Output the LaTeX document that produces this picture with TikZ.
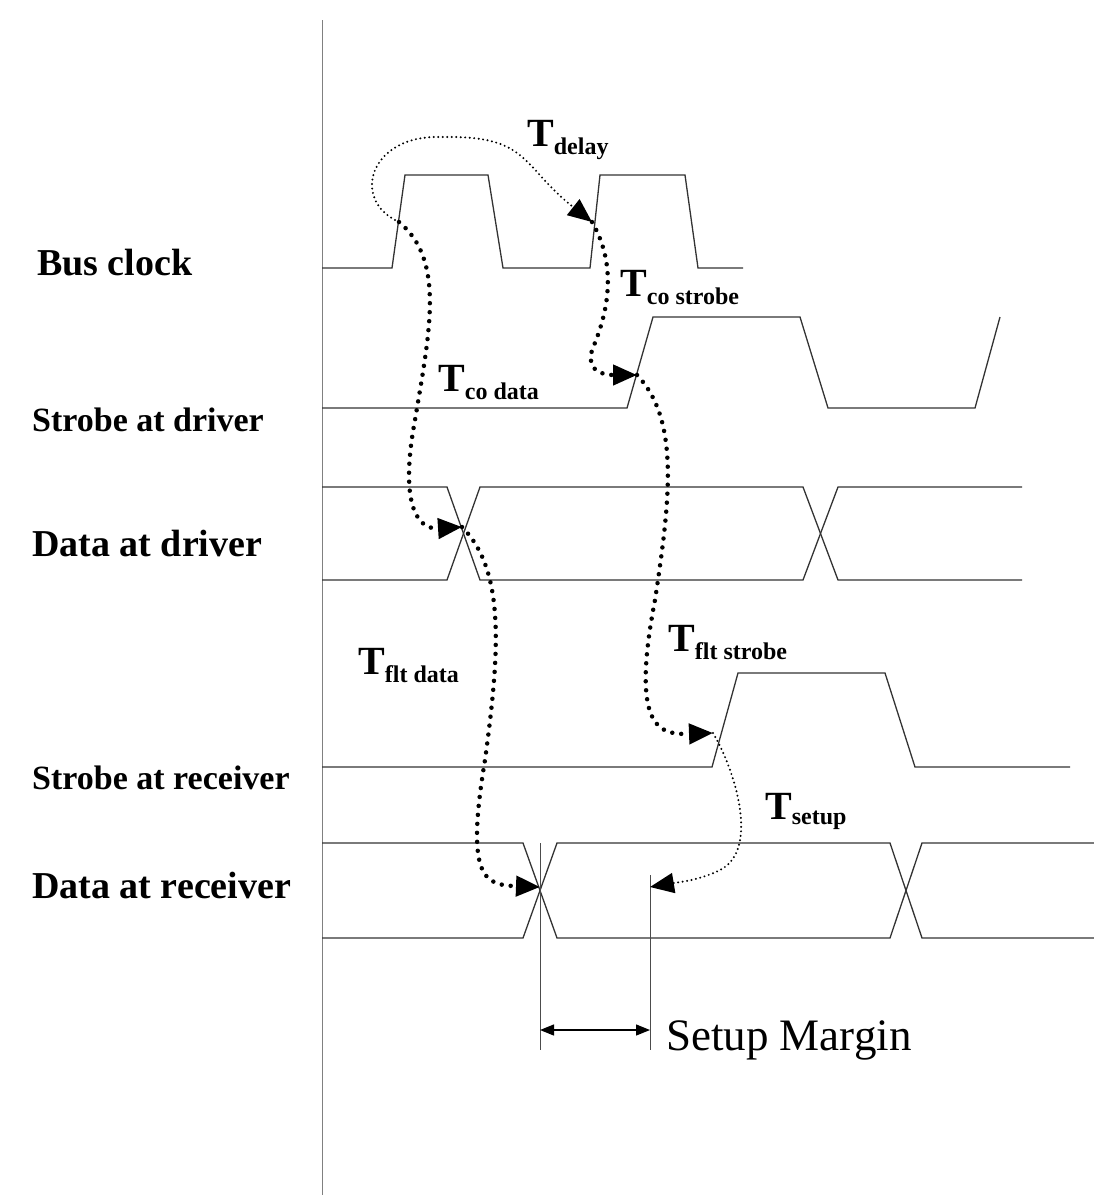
\documentclass[tikz,border=0pt]{standalone}
\usepackage{fontspec}
\setmainfont{Liberation Serif}
\usetikzlibrary{arrows.meta,positioning}
\tikzset{%
  wave/.style = { line width=1.3pt, black!80 },
  sig/.style = { anchor=west, font=\bfseries\fontsize{34}{36}\selectfont, inner sep=0pt },
  bigsig/.style = { sig, font=\bfseries\fontsize{38}{40}\selectfont },
  tlab/.style = { font=\bfseries\fontsize{40}{42}\selectfont, inner sep=0pt },
  path/.style = { line width=4.5pt, line cap=round, dash pattern=on 0pt off 9pt, -{Triangle[length=24pt,width=20pt]} },
  thinpath/.style = { line width=2.2pt, line cap=round, dash pattern=on 0pt off 4.5pt, -{Triangle[length=24pt,width=20pt]} }
}
\newcommand{\tsub}[1]{T\textsubscript{\fontsize{24}{26}\selectfont #1}}
\begin{document}
\begin{tikzpicture}[x=1pt,y=-1pt]
  \useasboundingbox (0,0) rectangle (1094,1202);

  % time axis
  \draw[line width=1pt,black!50] (322,20) -- (322,1195);

  % Signal names
  \node[bigsig] (nclk) at (37,263) {Bus clock};
  \node[sig] (nsd) at (32,420) {Strobe at driver};
  \node[bigsig] (ndd) at (32,543) {Data at driver};
  \node[sig] (nsr) at (32,778) {Strobe at receiver};
  \node[bigsig] (ndr) at (32,885) {Data at receiver};

  % Waveforms
  \draw[wave] (322,268) -- (392,268) -- (405,175) -- (488,175) -- (503,268) -- (590,268) -- (600,175) -- (685,175) -- (698,268) -- (743,268);
  \draw[wave] (322,408) -- (627,408) -- (653,317) -- (800,317) -- (828,408) -- (975,408) -- (1000,317);
  \draw[wave] (322,487) -- (447,487) -- (480,580) -- (803,580) -- (838,487) -- (1022,487);
  \draw[wave] (322,580) -- (447,580) -- (480,487) -- (803,487) -- (838,580) -- (1022,580);
  \draw[wave] (322,767) -- (712,767) -- (738,673) -- (885,673) -- (915,767) -- (1070,767);
  \draw[wave] (322,843) -- (523,843) -- (557,938) -- (890,938) -- (922,843) -- (1094,843);
  \draw[wave] (322,938) -- (523,938) -- (557,843) -- (890,843) -- (922,938) -- (1094,938);

  % Edge points
  \coordinate (clk1) at (399,222);
  \coordinate (clk2) at (592,222);
  \coordinate (sdrv) at (637,375);
  \coordinate (ddrv) at (462,527);
  \coordinate (srcv) at (713,733);
  \coordinate (drcv) at (540,887);
  \coordinate (mrg) at (650,887);

  % Setup margin
  \draw[line width=1pt,black!70] (540,843) -- (540,1050);
  \draw[line width=1pt,black!70] (650,875) -- (650,1050);
  \coordinate (ma) at (540,1030);
  \coordinate (mb) at (650,1030);
  \draw[line width=1.3pt,{Triangle[length=14pt,width=11pt]}-{Triangle[length=14pt,width=11pt]}] (ma) -- (mb);
  \node[anchor=west,font=\fontsize{45}{47}\selectfont,inner sep=0pt] (nmrg) at (666,1040) {Setup Margin};

  % Timing paths
  \draw[thinpath] (clk1) .. controls (350,200) and (370,135) .. (440,137) .. controls (530,135) and (520,165) .. (clk2);
  \draw[path] (clk1) .. controls (445,260) and (430,330) .. (415,420) .. controls (400,500) and (415,530) .. (ddrv);
  \draw[path] (clk2) .. controls (620,270) and (605,320) .. (592,350) .. controls (585,375) and (610,375) .. (sdrv);
  \draw[path] (ddrv) .. controls (505,570) and (500,650) .. (485,760) .. controls (465,880) and (485,885) .. (drcv);
  \draw[path] (sdrv) .. controls (680,420) and (670,500) .. (655,600) .. controls (630,730) and (660,735) .. (srcv);
  \draw[thinpath] (srcv) .. controls (735,770) and (760,850) .. (720,870) .. controls (700,880) and (680,882) .. (mrg);

  % Path labels
  \node[tlab,anchor=south west] (tdel) at (527,160) {\tsub{delay}};
  \node[tlab,anchor=south west] (tcos) at (620,305) {\tsub{co strobe}};
  \node[tlab,anchor=south west] (tcod) at (438,400) {\tsub{co data}};
  \node[tlab,anchor=south west] (tfls) at (668,660) {\tsub{flt strobe}};
  \node[tlab,anchor=south west] (tfld) at (358,683) {\tsub{flt data}};
  \node[tlab,anchor=south west] (tset) at (765,830) {\tsub{setup}};
\end{tikzpicture}
\end{document}
